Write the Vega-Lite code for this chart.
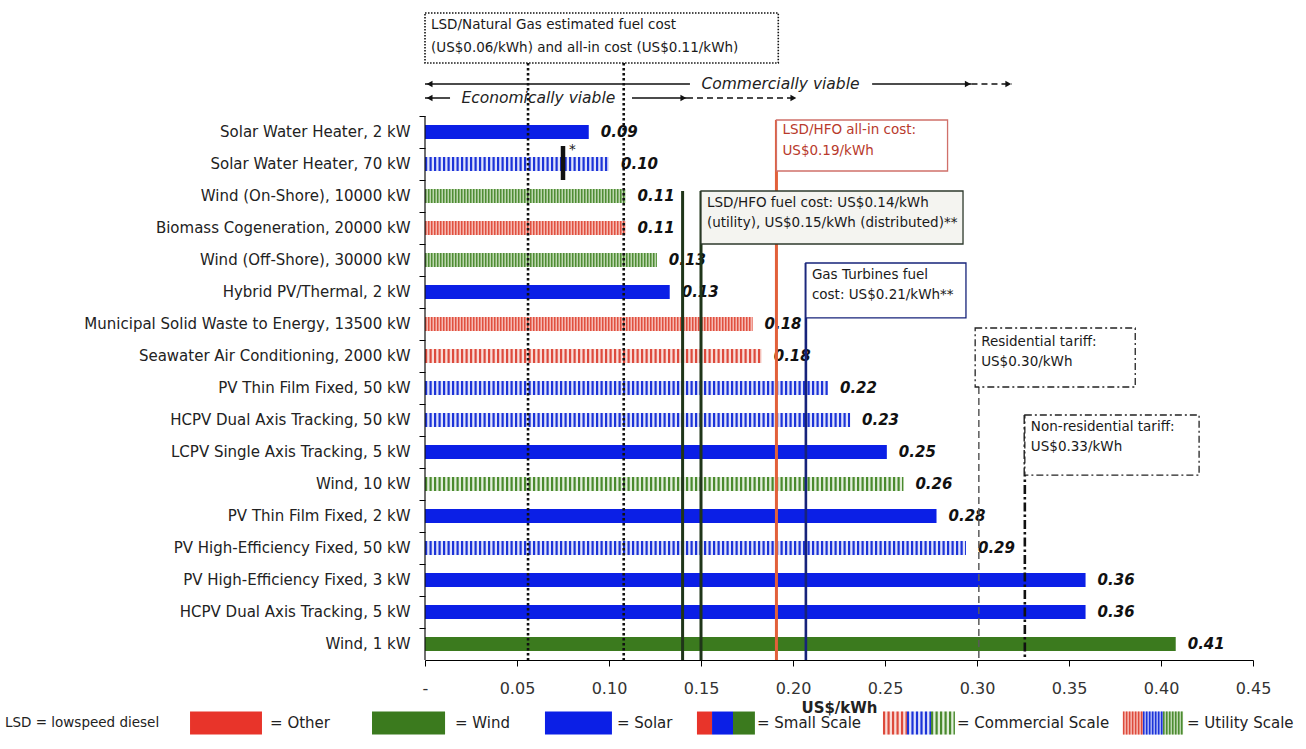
{
  "$schema": "https://vega.github.io/schema/vega-lite/v6.json",
  "width": 828,
  "height": 650,
  "autosize": {"type": "none"},
  "padding": {"left": 425, "top": 10, "right": 53, "bottom": 89},
  "config": {
    "font": "DejaVu Sans",
    "view": {"stroke": null},
    "axis": {"grid": false}
  },
  "datasets": {
    "bars": [
      {"name": "Solar Water Heater, 2 kW", "usd": 0.089, "tech": "Solar", "segment": "Small"},
      {"name": "Solar Water Heater, 70 kW", "usd": 0.100, "tech": "Solar", "segment": "Commercial"},
      {"name": "Wind (On-Shore), 10000 kW", "usd": 0.109, "tech": "Wind", "segment": "Utility"},
      {"name": "Biomass Cogeneration, 20000 kW", "usd": 0.109, "tech": "Other", "segment": "Utility"},
      {"name": "Wind (Off-Shore), 30000 kW", "usd": 0.126, "tech": "Wind", "segment": "Utility"},
      {"name": "Hybrid PV/Thermal, 2 kW", "usd": 0.133, "tech": "Solar", "segment": "Small"},
      {"name": "Municipal Solid Waste to Energy, 13500 kW", "usd": 0.178, "tech": "Other", "segment": "Utility"},
      {"name": "Seawater Air Conditioning, 2000 kW", "usd": 0.183, "tech": "Other", "segment": "Commercial"},
      {"name": "PV Thin Film Fixed, 50 kW", "usd": 0.219, "tech": "Solar", "segment": "Commercial"},
      {"name": "HCPV Dual Axis Tracking, 50 kW", "usd": 0.231, "tech": "Solar", "segment": "Commercial"},
      {"name": "LCPV Single Axis Tracking, 5 kW", "usd": 0.251, "tech": "Solar", "segment": "Small"},
      {"name": "Wind, 10 kW", "usd": 0.260, "tech": "Wind", "segment": "Commercial"},
      {"name": "PV Thin Film Fixed, 2 kW", "usd": 0.278, "tech": "Solar", "segment": "Small"},
      {"name": "PV High-Efficiency Fixed, 50 kW", "usd": 0.294, "tech": "Solar", "segment": "Commercial"},
      {"name": "PV High-Efficiency Fixed, 3 kW", "usd": 0.359, "tech": "Solar", "segment": "Small"},
      {"name": "HCPV Dual Axis Tracking, 5 kW", "usd": 0.359, "tech": "Solar", "segment": "Small"},
      {"name": "Wind, 1 kW", "usd": 0.408, "tech": "Wind", "segment": "Small"}
    ],
    "vlines": [
      {"kind": "axis", "usd": 0, "pos": 0, "pos2": 17},
      {"kind": "gas", "usd": 0.056, "pos": -1.656, "pos2": 17},
      {"kind": "gas", "usd": 0.108, "pos": -1.656, "pos2": 17},
      {"kind": "hfo_fuel", "usd": 0.14, "pos": 2.344, "pos2": 17},
      {"kind": "hfo_fuel", "usd": 0.15, "pos": 2.344, "pos2": 17},
      {"kind": "hfo_allin", "usd": 0.191, "pos": 0.125, "pos2": 17},
      {"kind": "turbine", "usd": 0.207, "pos": 4.594, "pos2": 17},
      {"kind": "res", "usd": 0.301, "pos": 8.469, "pos2": 17},
      {"kind": "nonres", "usd": 0.326, "pos": 9.344, "pos2": 17},
      {"kind": "star", "usd": 0.075, "pos": 0.9375, "pos2": 2.0}
    ],
    "boxes": [
      {"kind": "gas", "usd": 0, "usd2": 0.192, "pos": -3.219, "pos2": -1.656},
      {"kind": "hfo_allin", "usd": 0.191, "usd2": 0.284, "pos": 0.125, "pos2": 1.719},
      {"kind": "hfo_fuel", "usd": 0.15, "usd2": 0.2924, "pos": 2.344, "pos2": 4.0},
      {"kind": "turbine", "usd": 0.207, "usd2": 0.294, "pos": 4.594, "pos2": 6.31},
      {"kind": "res", "usd": 0.299, "usd2": 0.386, "pos": 6.625, "pos2": 8.469},
      {"kind": "nonres", "usd": 0.326, "usd2": 0.4207, "pos": 9.344, "pos2": 11.22}
    ],
    "notes": [
      {"kind": "gas", "usd": 0, "pos": -2.844, "text": "LSD/Natural Gas estimated fuel cost"},
      {"kind": "gas", "usd": 0, "pos": -2.125, "text": "(US$0.06/kWh) and all-in cost (US$0.11/kWh)"},
      {"kind": "hfo_allin", "usd": 0.191, "pos": 0.4375, "text": "LSD/HFO all-in cost:"},
      {"kind": "hfo_allin", "usd": 0.191, "pos": 1.094, "text": "US$0.19/kWh"},
      {"kind": "hfo_fuel", "usd": 0.15, "pos": 2.72, "text": "LSD/HFO fuel cost: US$0.14/kWh"},
      {"kind": "hfo_fuel", "usd": 0.15, "pos": 3.34, "text": "(utility), US$0.15/kWh (distributed)**"},
      {"kind": "turbine", "usd": 0.207, "pos": 4.97, "text": "Gas Turbines fuel"},
      {"kind": "turbine", "usd": 0.207, "pos": 5.59, "text": "cost: US$0.21/kWh**"},
      {"kind": "res", "usd": 0.299, "pos": 7.06, "text": "Residential tariff:"},
      {"kind": "res", "usd": 0.299, "pos": 7.69, "text": "US$0.30/kWh"},
      {"kind": "nonres", "usd": 0.326, "pos": 9.72, "text": "Non-residential tariff:"},
      {"kind": "nonres", "usd": 0.326, "pos": 10.34, "text": "US$0.33/kWh"},
      {"kind": "star", "usd": 0.075, "pos": 1.06, "text": "*"}
    ],
    "arrows": [
      {"usd": 0, "usd2": 0.144, "pos": -1.0, "dashed": false},
      {"usd": 0.243, "usd2": 0.297, "pos": -1.0, "dashed": false},
      {"usd": 0.297, "usd2": 0.319, "pos": -1.0, "dashed": true},
      {"usd": 0, "usd2": 0.0136, "pos": -0.5625, "dashed": false},
      {"usd": 0.1125, "usd2": 0.1424, "pos": -0.5625, "dashed": false},
      {"usd": 0.1424, "usd2": 0.2022, "pos": -0.5625, "dashed": true}
    ],
    "heads": [
      {"usd": 0.0025, "pos": -1.0, "dir": "left"},
      {"usd": 0.295, "pos": -1.0, "dir": "right"},
      {"usd": 0.317, "pos": -1.0, "dir": "right"},
      {"usd": 0.0025, "pos": -0.5625, "dir": "left"},
      {"usd": 0.1404, "pos": -0.5625, "dir": "right"},
      {"usd": 0.2002, "pos": -0.5625, "dir": "right"}
    ],
    "arrowtext": [
      {"usd": 0.1932, "pos": -1.0, "text": "Commercially viable"},
      {"usd": 0.0616, "pos": -0.5625, "text": "Economically viable"}
    ],
    "keys": [
      {"usd": -0.1277, "usd2": -0.0886, "pos": 18.61, "pos2": 19.33, "mid": 18.97, "tech": "Other", "segment": "Small"},
      {"usd": -0.0288, "usd2": 0.0109, "pos": 18.61, "pos2": 19.33, "mid": 18.97, "tech": "Wind", "segment": "Small"},
      {"usd": 0.0652, "usd2": 0.1016, "pos": 18.61, "pos2": 19.33, "mid": 18.97, "tech": "Solar", "segment": "Small"},
      {"usd": 0.1478, "usd2": 0.156, "pos": 18.61, "pos2": 19.33, "mid": 18.97, "tech": "Other", "segment": "Small"},
      {"usd": 0.156, "usd2": 0.1674, "pos": 18.61, "pos2": 19.33, "mid": 18.97, "tech": "Solar", "segment": "Small"},
      {"usd": 0.1674, "usd2": 0.1793, "pos": 18.61, "pos2": 19.33, "mid": 18.97, "tech": "Wind", "segment": "Small"},
      {"usd": 0.2489, "usd2": 0.2619, "pos": 18.61, "pos2": 19.33, "mid": 18.97, "tech": "Other", "segment": "Commercial"},
      {"usd": 0.2619, "usd2": 0.275, "pos": 18.61, "pos2": 19.33, "mid": 18.97, "tech": "Solar", "segment": "Commercial"},
      {"usd": 0.275, "usd2": 0.288, "pos": 18.61, "pos2": 19.33, "mid": 18.97, "tech": "Wind", "segment": "Commercial"},
      {"usd": 0.3793, "usd2": 0.3902, "pos": 18.61, "pos2": 19.33, "mid": 18.97, "tech": "Other", "segment": "Utility"},
      {"usd": 0.3902, "usd2": 0.4011, "pos": 18.61, "pos2": 19.33, "mid": 18.97, "tech": "Solar", "segment": "Utility"},
      {"usd": 0.4011, "usd2": 0.412, "pos": 18.61, "pos2": 19.33, "mid": 18.97, "tech": "Wind", "segment": "Utility"}
    ],
    "keytext": [
      {"usd": -0.2283, "pos": 18.97, "text": "LSD = lowspeed diesel", "role": "title"},
      {"usd": -0.0842, "pos": 18.97, "text": "= Other", "role": "label"},
      {"usd": 0.0163, "pos": 18.97, "text": "= Wind", "role": "label"},
      {"usd": 0.1043, "pos": 18.97, "text": "= Solar", "role": "label"},
      {"usd": 0.1804, "pos": 18.97, "text": "= Small Scale", "role": "label"},
      {"usd": 0.2891, "pos": 18.97, "text": "= Commercial Scale", "role": "label"},
      {"usd": 0.4141, "pos": 18.97, "text": "= Utility Scale", "role": "label"}
    ]
  },
  "encoding": {
    "x": {
      "field": "usd",
      "type": "quantitative",
      "scale": {"domain": [0, 0.45], "nice": false, "zero": true},
      "axis": {
        "title": "US$/kWh",
        "values": [0, 0.05, 0.1, 0.15, 0.2, 0.25, 0.3, 0.35, 0.4, 0.45],
        "labelExpr": "datum.value === 0 ? '-' : format(datum.value, '.2f')",
        "labelFlush": false,
        "tickSize": 6,
        "tickColor": "#000000",
        "domainColor": "#000000",
        "labelFontSize": 16,
        "labelColor": "#333333",
        "labelPadding": 14,
        "titleFontSize": 15,
        "titleFontWeight": "bold",
        "titleColor": "#222222",
        "titlePadding": 4
      }
    }
  },
  "layer": [
    {
      "data": {"name": "bars"},
      "encoding": {
        "y": {
          "field": "name",
          "type": "nominal",
          "sort": null,
          "scale": {
            "domain": [
              "Solar Water Heater, 2 kW", "Solar Water Heater, 70 kW", "Wind (On-Shore), 10000 kW",
              "Biomass Cogeneration, 20000 kW", "Wind (Off-Shore), 30000 kW", "Hybrid PV/Thermal, 2 kW",
              "Municipal Solid Waste to Energy, 13500 kW", "Seawater Air Conditioning, 2000 kW",
              "PV Thin Film Fixed, 50 kW", "HCPV Dual Axis Tracking, 50 kW", "LCPV Single Axis Tracking, 5 kW",
              "Wind, 10 kW", "PV Thin Film Fixed, 2 kW", "PV High-Efficiency Fixed, 50 kW",
              "PV High-Efficiency Fixed, 3 kW", "HCPV Dual Axis Tracking, 5 kW", "Wind, 1 kW"
            ],
            "range": [106, 650],
            "paddingInner": 0,
            "paddingOuter": 0
          },
          "axis": {
            "title": null,
            "bandPosition": 0,
            "domain": false,
            "tickSize": 6,
            "tickColor": "#000000",
            "labelFontSize": 15,
            "labelColor": "#222222",
            "labelPadding": 9,
            "labelLimit": 400
          }
        }
      },
      "layer": [
        {
          "transform": [{"filter": "datum.segment === 'Small'"}],
          "mark": {"type": "bar", "height": 14},
          "encoding": {
            "fill": {
              "field": "tech",
              "type": "nominal",
              "scale": {"domain": ["Other", "Wind", "Solar"], "range": ["#e8342a", "#3b7a1e", "#0b1fe6"]},
              "legend": null
            }
          }
        },
        {
          "transform": [{"filter": "datum.segment === 'Commercial'"}],
          "mark": {"type": "bar", "height": 14},
          "encoding": {
            "fill": {
              "condition": [
                {"test": "datum.tech === 'Solar'", "value": "#dfe3fb"},
                {"test": "datum.tech === 'Wind'", "value": "#e2eedb"}
              ],
              "value": "#f9dcd8"
            }
          }
        },
        {
          "transform": [{"filter": "datum.segment === 'Commercial'"}],
          "mark": {"type": "rule", "strokeWidth": 14, "strokeDash": [2.2, 2.3]},
          "encoding": {
            "x": {"datum": 0, "type": "quantitative"},
            "x2": {"field": "usd"},
            "stroke": {
              "condition": [
                {"test": "datum.tech === 'Solar'", "value": "#1c33d8"},
                {"test": "datum.tech === 'Wind'", "value": "#4a8a2e"}
              ],
              "value": "#dd4a3c"
            }
          }
        },
        {
          "transform": [{"filter": "datum.segment === 'Utility'"}],
          "mark": {"type": "bar", "height": 14},
          "encoding": {
            "fill": {
              "condition": [
                {"test": "datum.tech === 'Solar'", "value": "#aab4f4"},
                {"test": "datum.tech === 'Wind'", "value": "#bcd6ae"}
              ],
              "value": "#f6b9b2"
            }
          }
        },
        {
          "transform": [{"filter": "datum.segment === 'Utility'"}],
          "mark": {"type": "rule", "strokeWidth": 14, "strokeDash": [1.5, 1.5]},
          "encoding": {
            "x": {"datum": 0, "type": "quantitative"},
            "x2": {"field": "usd"},
            "stroke": {
              "condition": [
                {"test": "datum.tech === 'Solar'", "value": "#1c33d8"},
                {"test": "datum.tech === 'Wind'", "value": "#4f8c34"}
              ],
              "value": "#e0503f"
            }
          }
        },
        {
          "mark": {"type": "text", "align": "left", "baseline": "middle", "dx": 12, "fontSize": 15, "fontWeight": "bold", "fontStyle": "italic", "color": "#111111"},
          "encoding": {
            "text": {"field": "usd", "type": "quantitative", "format": ".2f"}
          }
        }
      ]
    },
    {
      "encoding": {
        "y": {
          "field": "pos",
          "type": "quantitative",
          "scale": {"domain": [-3.3125, 17], "reverse": true, "nice": false, "zero": false},
          "axis": null
        }
      },
      "layer": [
        {
          "data": {"name": "arrows"},
          "mark": {"type": "rule", "strokeWidth": 1.5, "color": "#111111"},
          "encoding": {
            "x2": {"field": "usd2"},
            "strokeDash": {"condition": {"test": "datum.dashed", "value": [6, 4]}, "value": [1, 0]}
          }
        },
        {
          "data": {"name": "heads"},
          "mark": {"type": "point", "filled": true, "size": 45, "color": "#111111", "opacity": 1},
          "encoding": {
            "shape": {"condition": {"test": "datum.dir === 'left'", "value": "triangle-left"}, "value": "triangle-right"}
          }
        },
        {
          "data": {"name": "arrowtext"},
          "mark": {"type": "text", "align": "center", "baseline": "middle", "fontSize": 15.5, "fontStyle": "italic", "color": "#222222"},
          "encoding": {"text": {"field": "text"}}
        },
        {
          "data": {"name": "vlines"},
          "mark": {"type": "rule"},
          "encoding": {
            "y2": {"field": "pos2"},
            "stroke": {
              "condition": [
                {"test": "datum.kind === 'hfo_fuel'", "value": "#1f3519"},
                {"test": "datum.kind === 'hfo_allin'", "value": "#e2603a"},
                {"test": "datum.kind === 'turbine'", "value": "#16237a"},
                {"test": "datum.kind === 'res'", "value": "#5a5a5a"}
              ],
              "value": "#111111"
            },
            "strokeDash": {
              "condition": [
                {"test": "datum.kind === 'gas'", "value": [2.5, 2.5]},
                {"test": "datum.kind === 'res'", "value": [7, 4]},
                {"test": "datum.kind === 'nonres'", "value": [9, 3, 2.5, 3]}
              ],
              "value": [1, 0]
            },
            "strokeWidth": {
              "condition": [
                {"test": "datum.kind === 'axis'", "value": 1.2},
                {"test": "datum.kind === 'res'", "value": 1.5},
                {"test": "datum.kind === 'star'", "value": 4.5},
                {"test": "datum.kind === 'hfo_fuel' || datum.kind === 'hfo_allin'", "value": 3}
              ],
              "value": 2.6
            }
          }
        },
        {
          "data": {"name": "boxes"},
          "transform": [{"filter": "datum.kind !== 'gas' && datum.kind !== 'res' && datum.kind !== 'nonres'"}],
          "mark": {"type": "rect", "strokeWidth": 1.3},
          "encoding": {
            "x2": {"field": "usd2"},
            "y2": {"field": "pos2"},
            "fill": {"condition": {"test": "datum.kind === 'hfo_fuel'", "value": "#f4f4f0"}, "value": "#ffffff"},
            "stroke": {
              "condition": [
                {"test": "datum.kind === 'hfo_fuel'", "value": "#2e3a2c"},
                {"test": "datum.kind === 'hfo_allin'", "value": "#d0706a"}
              ],
              "value": "#16237a"
            }
          }
        },
        {
          "data": {"name": "boxes"},
          "transform": [{"filter": "datum.kind === 'gas'"}],
          "mark": {"type": "rect", "fill": "#ffffff", "stroke": "#111111", "strokeWidth": 1.6, "strokeDash": [1.5, 1.5]},
          "encoding": {
            "x2": {"field": "usd2"},
            "y2": {"field": "pos2"}
          }
        },
        {
          "data": {"name": "boxes"},
          "transform": [{"filter": "datum.kind === 'res' || datum.kind === 'nonres'"}],
          "mark": {"type": "rect", "fill": "#ffffff", "stroke": "#222222", "strokeWidth": 1.3, "strokeDash": [7, 3, 2, 3]},
          "encoding": {
            "x2": {"field": "usd2"},
            "y2": {"field": "pos2"}
          }
        },
        {
          "data": {"name": "notes"},
          "mark": {"type": "text", "align": "left", "baseline": "middle", "dx": 6, "fontSize": 13.5},
          "encoding": {
            "text": {"field": "text"},
            "color": {"condition": {"test": "datum.kind === 'hfo_allin'", "value": "#b83a2c"}, "value": "#1a1a1a"}
          }
        },
        {
          "data": {"name": "keys"},
          "mark": {"type": "rect"},
          "encoding": {
            "x2": {"field": "usd2"},
            "y2": {"field": "pos2"},
            "fill": {
              "condition": [
                {"test": "datum.segment === 'Small' && datum.tech === 'Other'", "value": "#e8342a"},
                {"test": "datum.segment === 'Small' && datum.tech === 'Wind'", "value": "#3b7a1e"},
                {"test": "datum.segment === 'Small' && datum.tech === 'Solar'", "value": "#0b1fe6"},
                {"test": "datum.segment === 'Commercial' && datum.tech === 'Other'", "value": "#f9dcd8"},
                {"test": "datum.segment === 'Commercial' && datum.tech === 'Wind'", "value": "#e2eedb"},
                {"test": "datum.segment === 'Commercial' && datum.tech === 'Solar'", "value": "#dfe3fb"},
                {"test": "datum.segment === 'Utility' && datum.tech === 'Other'", "value": "#f6b9b2"},
                {"test": "datum.segment === 'Utility' && datum.tech === 'Wind'", "value": "#bcd6ae"}
              ],
              "value": "#aab4f4"
            }
          }
        },
        {
          "data": {"name": "keys"},
          "transform": [{"filter": "datum.segment !== 'Small'"}],
          "mark": {"type": "rule", "strokeWidth": 23},
          "encoding": {
            "y": {"field": "mid", "type": "quantitative"},
            "x2": {"field": "usd2"},
            "stroke": {
              "condition": [
                {"test": "datum.tech === 'Solar'", "value": "#1c33d8"},
                {"test": "datum.tech === 'Wind'", "value": "#4a8a2e"}
              ],
              "value": "#dd4a3c"
            },
            "strokeDash": {"condition": {"test": "datum.segment === 'Commercial'", "value": [2.2, 2.3]}, "value": [1.5, 1.5]}
          }
        },
        {
          "data": {"name": "keytext"},
          "mark": {"type": "text", "align": "left", "baseline": "middle", "color": "#222222"},
          "encoding": {
            "text": {"field": "text"},
            "size": {"condition": {"test": "datum.role === 'title'", "value": 13.5}, "value": 15}
          }
        }
      ]
    }
  ],
  "resolve": {"scale": {"y": "independent"}}
}
